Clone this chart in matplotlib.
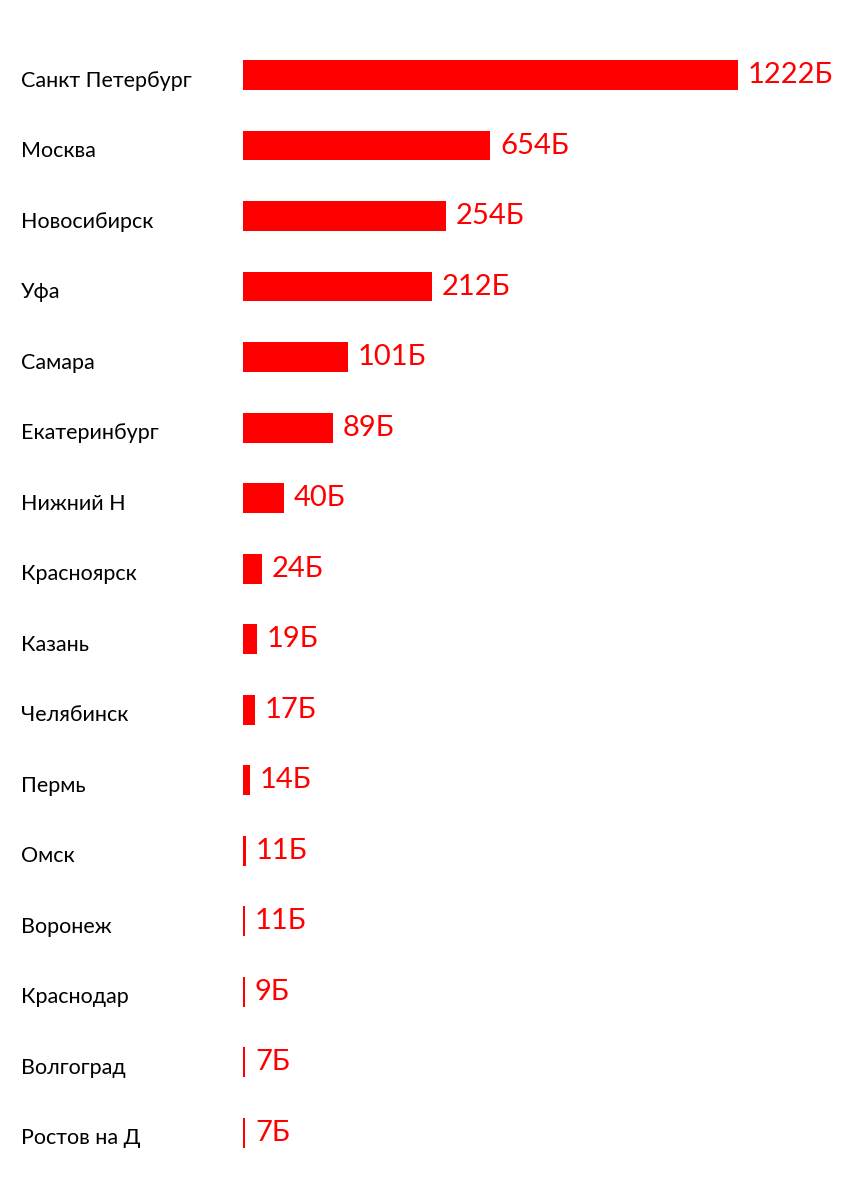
import matplotlib.pyplot as plt

# cities, top to bottom
cities = ["Санкт Петербург", "Москва", "Новосибирск", "Уфа", "Самара",
          "Екатеринбург", "Нижний Н", "Красноярск", "Казань", "Челябинск",
          "Пермь", "Омск", "Воронеж", "Краснодар", "Волгоград", "Ростов на Д"]
# value labels as written on the chart (billions)
values = [1222, 654, 254, 212, 101, 89, 40, 24, 19, 17, 14, 11, 11, 9, 7, 7]
# bar lengths as drawn in the picture (not proportional to values)
bar_len = [495, 247, 203, 189, 105, 90, 41, 19, 14, 12, 7, 3, 2, 2, 2, 2]

plt.rcParams['font.family'] = ['Lato', 'DejaVu Sans']

fig = plt.figure(figsize=(8.63, 12), dpi=100)
ax = fig.add_axes([0, 0, 1, 1])
ax.set_xlim(-243, 620)
ax.set_ylim(15.957, -1.064)
ax.axis('off')

ypos = list(range(len(cities)))
ax.barh(ypos, bar_len, height=0.425, color='#ff0000', left=0)

for y, name, v, w in zip(ypos, cities, values, bar_len):
    ax.text(-222, y + 0.08, name, fontsize=15.5, color='black',
            ha='left', va='center')
    ax.text(w + 10, y, f"{v}Б", fontsize=21, color='#ff0000',
            ha='left', va='center')

fig.savefig("out.png", dpi=100, facecolor='white')
